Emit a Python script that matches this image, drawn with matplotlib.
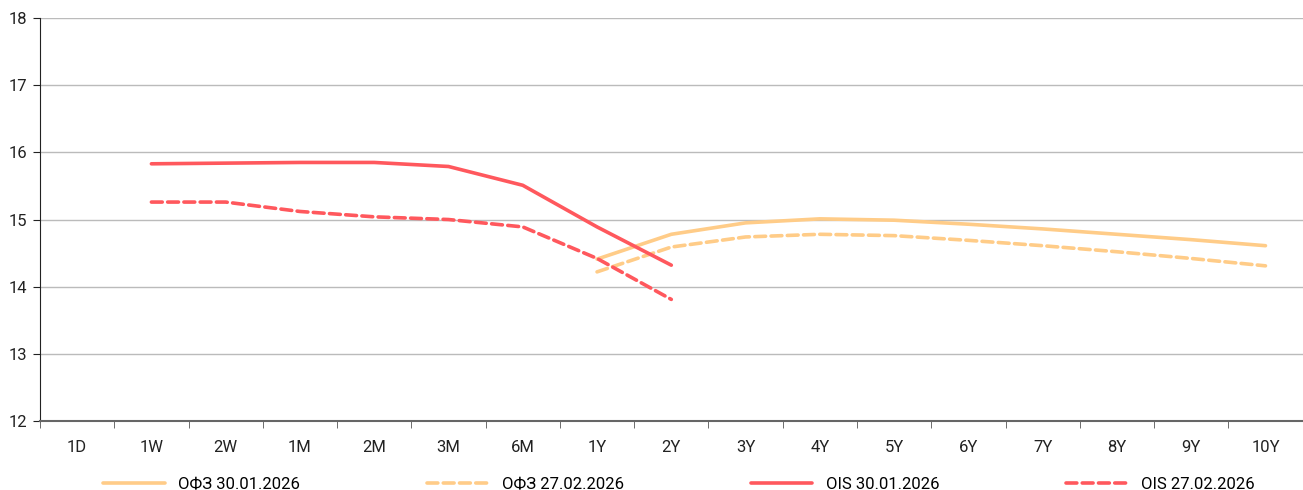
import matplotlib
matplotlib.use('Agg')
import matplotlib.pyplot as plt
import numpy as np

plt.rcParams['font.family'] = ['Liberation Sans Narrow', 'Roboto', 'DejaVu Sans']

# Категории сроков
tenors = ['1D', '1W', '2W', '1M', '2M', '3M', '6M', '1Y', '2Y', '3Y', '4Y', '5Y', '6Y', '7Y', '8Y', '9Y', '10Y']

# OIS (1W .. 2Y)
ois_tenors = ['1W', '2W', '1M', '2M', '3M', '6M', '1Y', '2Y']
ois_3001 = [15.83, 15.84, 15.85, 15.85, 15.79, 15.51, 14.89, 14.32]
ois_2702 = [15.26, 15.26, 15.12, 15.04, 15.00, 14.89, 14.42, 13.81]

# ОФЗ (1Y .. 10Y)
ofz_tenors = ['1Y', '2Y', '3Y', '4Y', '5Y', '6Y', '7Y', '8Y', '9Y', '10Y']
ofz_3001 = [14.41, 14.78, 14.95, 15.01, 14.99, 14.93, 14.86, 14.78, 14.70, 14.61]
ofz_2702 = [14.22, 14.59, 14.74, 14.78, 14.76, 14.69, 14.61, 14.52, 14.42, 14.31]

col_ofz = '#FFCC88'
col_ois = '#FF585D'

fig = plt.figure(figsize=(13.03, 4.9), dpi=100)
ax = fig.add_axes([0.0307, 0.141, 0.969, 0.822])

pos = {t: i for i, t in enumerate(tenors)}
x_ofz = [pos[t] for t in ofz_tenors]
x_ois = [pos[t] for t in ois_tenors]

ax.plot(x_ofz, ofz_3001, color=col_ofz, lw=2.6, label='ОФЗ 30.01.2026', solid_capstyle='round')
ax.plot(x_ofz, ofz_2702, color=col_ofz, lw=2.6, ls=(0, (3, 1.5)), label='ОФЗ 27.02.2026', dash_capstyle='round')
ax.plot(x_ois, ois_3001, color=col_ois, lw=2.6, label='OIS 30.01.2026', solid_capstyle='round')
ax.plot(x_ois, ois_2702, color=col_ois, lw=2.6, ls=(0, (3, 1.5)), label='OIS 27.02.2026', dash_capstyle='round')

ax.set_xlim(-0.5, len(tenors) - 0.5)
ax.set_ylim(12, 18)
ax.set_yticks(range(12, 19))
ax.yaxis.grid(True, color='#BBBBBB', lw=1)
ax.set_axisbelow(True)

ax.set_xticks(range(len(tenors)))
ax.set_xticklabels(tenors)
ax.set_xticks(np.arange(-0.5, len(tenors), 1), minor=True)
ax.tick_params(axis='x', which='major', length=0, pad=14, labelsize=12, colors='#222222')
ax.tick_params(axis='x', which='minor', length=5, direction='out', color='#555555')
ax.tick_params(axis='y', length=5, direction='out', labelsize=12, colors='#222222', pad=4)

for s in ['top', 'right']:
    ax.spines[s].set_visible(False)
ax.spines['left'].set_color('#222222')
ax.spines['bottom'].set_color('#666666')
ax.spines['bottom'].set_linewidth(1.5)

fig.legend(loc='lower center', bbox_to_anchor=(0.521, -0.035), ncol=4, frameon=False,
           fontsize=12, handlelength=3.7, columnspacing=7.6, handletextpad=0.8)

plt.savefig('out.png', dpi=100)
